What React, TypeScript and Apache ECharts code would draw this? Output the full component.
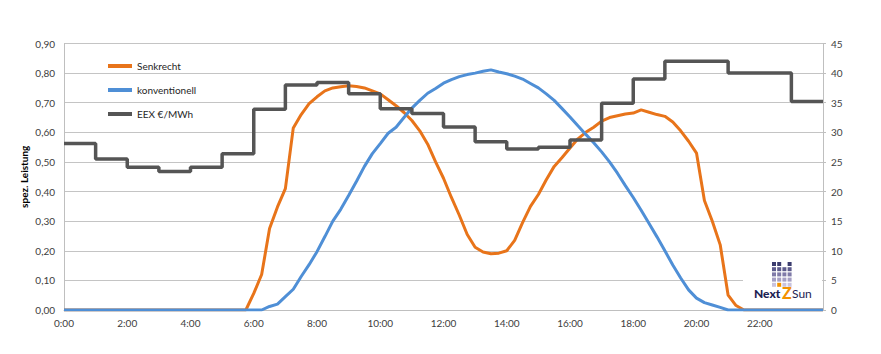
import React, { useEffect, useRef } from "react";
import * as echarts from "echarts";

// 15-minute samples from 0:00 to 24:00 (97 points)
const senkrecht = [
  0, 0, 0, 0, 0, 0, 0, 0, 0, 0, 0, 0, 0, 0, 0, 0, 0, 0, 0, 0, 0, 0, 0, 0.0,
  0.056, 0.12, 0.275, 0.348, 0.41, 0.615, 0.66, 0.697,
  0.72, 0.74, 0.75, 0.754, 0.757, 0.755, 0.75, 0.74,
  0.73, 0.71, 0.69, 0.667, 0.64, 0.605, 0.56, 0.5,
  0.445, 0.38, 0.32, 0.255, 0.212, 0.196, 0.19, 0.192,
  0.2, 0.235, 0.295, 0.35, 0.39, 0.44, 0.485, 0.515,
  0.547, 0.578, 0.6, 0.617, 0.638, 0.65, 0.656, 0.662,
  0.665, 0.676, 0.668, 0.66, 0.654, 0.635, 0.605, 0.57,
  0.53, 0.37, 0.3, 0.22, 0.05, 0.015, 0, 0,
  0, 0, 0, 0, 0, 0, 0, 0, 0,
];

const konventionell = [
  0, 0, 0, 0, 0, 0, 0, 0, 0, 0, 0, 0, 0, 0, 0, 0, 0, 0, 0, 0, 0, 0, 0, 0,
  0, 0, 0.012, 0.02, 0.045, 0.07, 0.113, 0.153,
  0.197, 0.248, 0.3, 0.34, 0.387, 0.435, 0.485, 0.528,
  0.562, 0.597, 0.617, 0.65, 0.682, 0.708, 0.732, 0.748,
  0.766, 0.778, 0.788, 0.795, 0.8, 0.806, 0.811, 0.804,
  0.798, 0.79, 0.78, 0.765, 0.75, 0.73, 0.708, 0.68,
  0.652, 0.622, 0.593, 0.565, 0.534, 0.5, 0.462, 0.42,
  0.38, 0.337, 0.292, 0.247, 0.2, 0.152, 0.108, 0.068,
  0.04, 0.025, 0.017, 0.009, 0, 0, 0, 0,
  0, 0, 0, 0, 0, 0, 0, 0, 0,
];

// hourly EEX price (€/MWh), hours 0..23
const eexPrice = [
  28.1, 25.5, 24.1, 23.4, 24.1, 26.4, 33.9, 38.0, 38.4, 36.5, 34.0, 33.2,
  30.9, 28.4, 27.2, 27.5, 28.7, 34.9, 39.0, 42.0, 42.0, 40.0, 40.0, 35.2,
];

const xTickLabels = [
  "0:00", "2:00", "4:00", "6:00", "8:00", "10:00",
  "12:00", "14:00", "16:00", "18:00", "20:00", "22:00",
];

const seriesNames = ["Senkrecht", "konventionell", "EEX €/MWh"];
const yAxisTitle = "spez. Leistung";

const FONT = "Lato, 'Liberation Sans', sans-serif";

export default function App() {
  const ref = useRef<HTMLDivElement>(null);

  useEffect(() => {
    if (!ref.current) return;
    const chart = echarts.init(ref.current, null, { renderer: "svg" });

    const senkData = senkrecht.map((v, i) => [i / 4, v]);
    const konvData = konventionell.map((v, i) => [i / 4, v]);
    const eexData = eexPrice.map((v, i) => [i, v]);
    eexData.push([24, eexPrice[eexPrice.length - 1]]);

    // logo squares
    const logoCols = 4;
    const logoRows = 5;
    const sq = 4;
    const gap = 1.2;
    const lx = 772;
    const ly = 262;
    const rowColors = ["#3b3c6e", "#5d5b8c", "#7f7aa8", "#a59fc4", "#c9c3de"];
    const logoRects: any[] = [];
    for (let c = 0; c < logoCols; c++) {
      for (let r = 0; r < logoRows; r++) {
        if (c === 2 && r === 0) continue;
        const isOrange = c === 1 && r === 4;
        logoRects.push({
          type: "rect",
          shape: { x: lx + c * (sq + gap), y: ly + r * (sq + gap), width: sq, height: sq },
          style: { fill: isOrange ? "#F39200" : rowColors[r] },
          z: 101,
        });
      }
    }

    chart.setOption({
      animation: false,
      backgroundColor: "#ffffff",
      textStyle: { fontFamily: FONT },
      grid: { left: 64, right: 58, top: 43.5, bottom: 44 },
      legend: {
        orient: "vertical",
        left: 103,
        top: 54,
        icon: "rect",
        itemWidth: 24,
        itemHeight: 4,
        itemGap: 10,
        data: seriesNames,
        textStyle: { fontFamily: FONT, fontSize: 10, color: "#262626", lineHeight: 14 },
      },
      xAxis: {
        type: "value",
        min: 0,
        max: 24,
        interval: 2,
        axisLine: { show: true, lineStyle: { color: "#BFBFBF" } },
        axisTick: { show: false },
        splitLine: { show: false },
        axisLabel: {
          margin: 8,
          fontSize: 10,
          color: "#404040",
          fontFamily: FONT,
          formatter: (v: number) => (v >= 24 ? "" : xTickLabels[Math.round(v / 2)]),
        },
      },
      yAxis: [
        {
          type: "value",
          min: 0,
          max: 0.9,
          interval: 0.1,
          name: yAxisTitle,
          nameLocation: "middle",
          nameGap: 35,
          nameMoveOverlap: false,
          nameTextStyle: { fontFamily: FONT, fontSize: 10, fontWeight: "bold", color: "#000" },
          axisLine: { show: true, lineStyle: { color: "#BFBFBF" } },
          axisTick: { show: false },
          splitLine: { show: true, lineStyle: { color: "#C4C4C4", width: 1 } },
          axisLabel: {
            margin: 9,
            fontSize: 10,
            color: "#404040",
            fontFamily: FONT,
            formatter: (v: number) => v.toFixed(2).replace(".", ","),
          },
        },
        {
          type: "value",
          min: 0,
          max: 45,
          interval: 5,
          position: "right",
          axisLine: { show: true, lineStyle: { color: "#BFBFBF" } },
          axisTick: { show: true, length: 3, lineStyle: { color: "#BFBFBF" } },
          splitLine: { show: false },
          axisLabel: { margin: 8, fontSize: 10, color: "#404040", fontFamily: FONT },
        },
      ],
      series: [
        {
          name: seriesNames[0],
          type: "line",
          data: senkData,
          showSymbol: false,
          symbol: "none",
          color: "#E8741A",
          lineStyle: { width: 3, color: "#E8741A" },
          z: 3,
        },
        {
          name: seriesNames[1],
          type: "line",
          data: konvData,
          showSymbol: false,
          symbol: "none",
          color: "#4F8FD6",
          lineStyle: { width: 3, color: "#4F8FD6" },
          z: 4,
        },
        {
          name: seriesNames[2],
          type: "line",
          yAxisIndex: 1,
          step: "end",
          data: eexData,
          showSymbol: false,
          symbol: "none",
          color: "#555555",
          lineStyle: { width: 3.5, color: "#555555" },
          z: 5,
        },
      ],
      graphic: [
        {
          type: "rect",
          shape: { x: 743, y: 254, width: 79, height: 52 },
          style: { fill: "#ffffff" },
          z: 100,
        },
        ...logoRects,
        {
          type: "text",
          x: 754,
          y: 287,
          z: 101,
          style: {
            text: "Next",
            fill: "#1c2152",
            font: "900 12px " + FONT,
          },
        },
        {
          type: "text",
          x: 782,
          y: 284,
          z: 101,
          style: {
            text: "Z",
            fill: "#F39200",
            font: "900 16px " + FONT,
          },
        },
        {
          type: "text",
          x: 792,
          y: 287,
          z: 101,
          style: {
            text: "Sun",
            fill: "#1c2152",
            font: "12px " + FONT,
          },
        },
      ],
    });

    return () => chart.dispose();
  }, []);

  return (
    <div
      ref={ref}
      style={{ position: "fixed", left: 0, top: 0, width: 881, height: 354 }}
    />
  );
}
